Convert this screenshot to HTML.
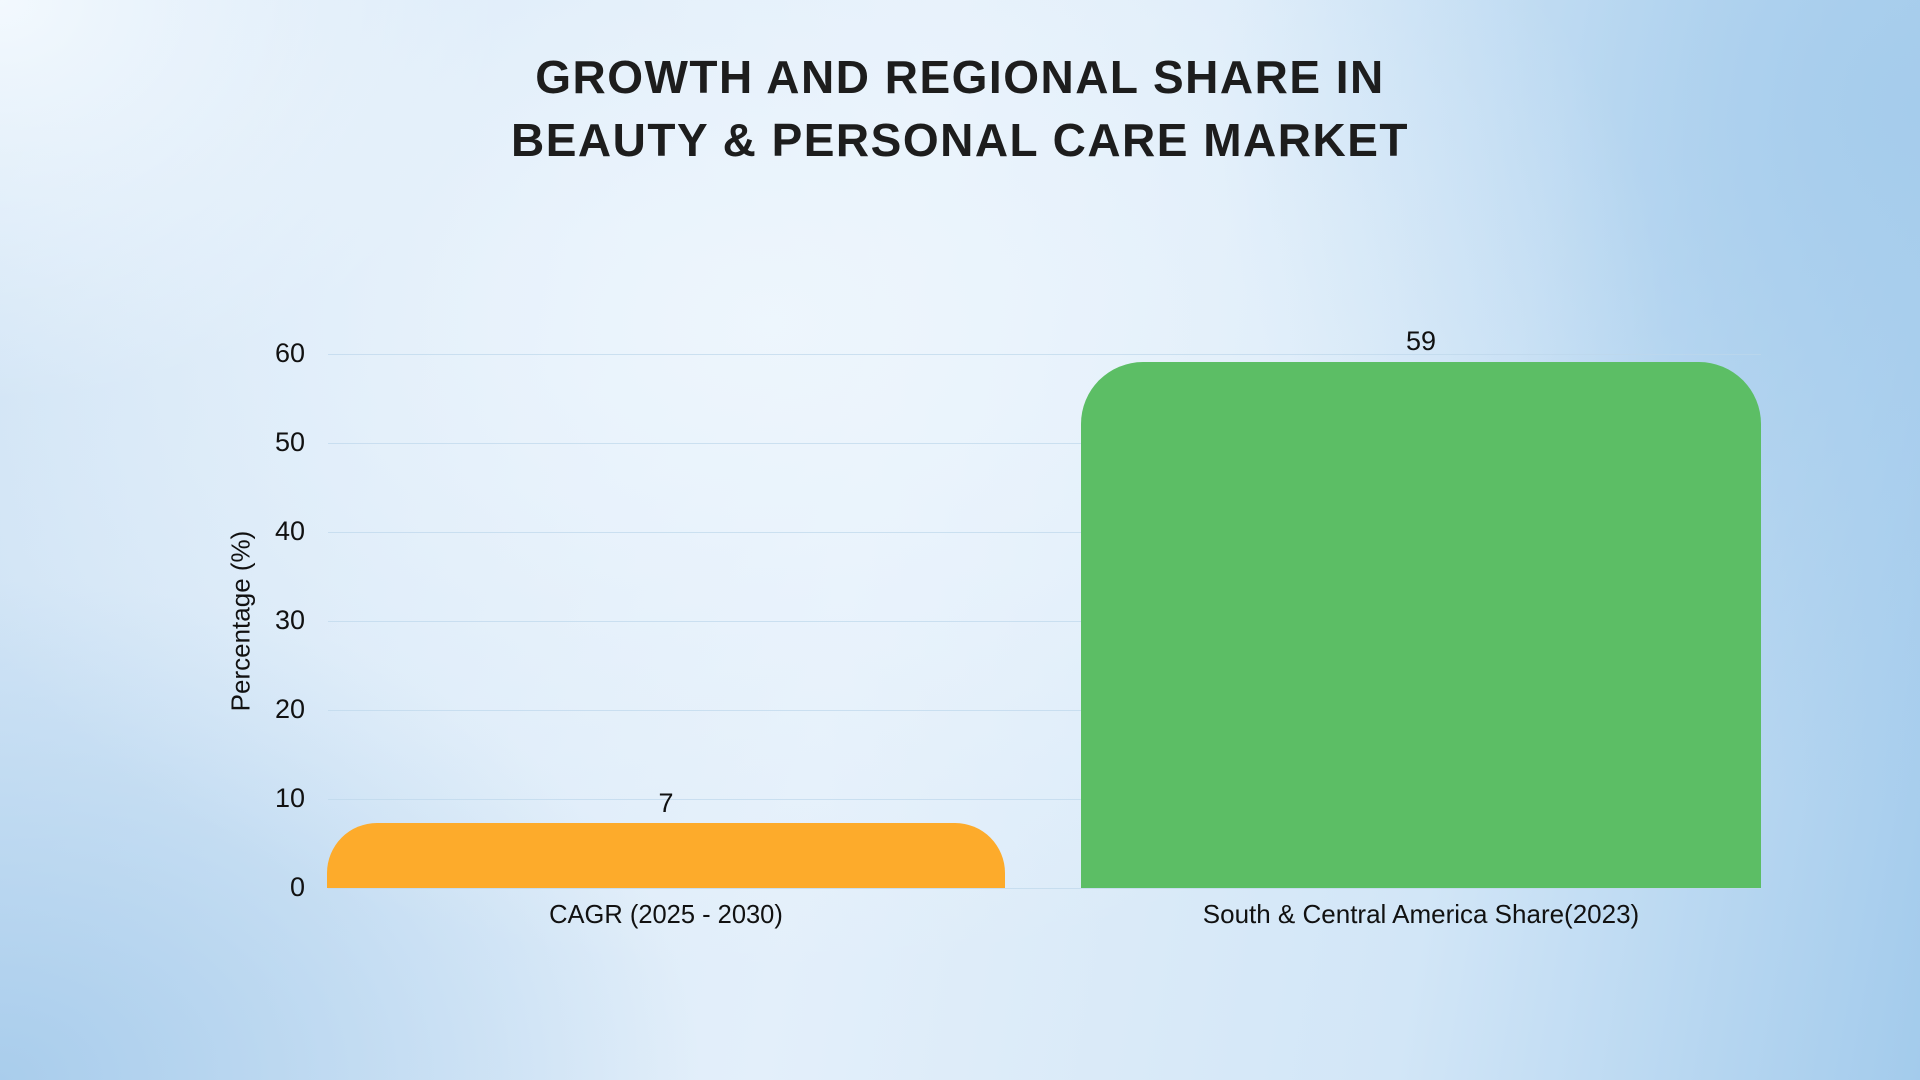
<!DOCTYPE html>
<html><head><style>
html,body{margin:0;padding:0;}
body{width:1920px;height:1080px;overflow:hidden;position:relative;font-family:"Liberation Sans",sans-serif;
background:
radial-gradient(ellipse 900px 650px at 40% 30%, rgba(238,246,253,0.95), rgba(238,246,253,0) 100%),
radial-gradient(ellipse 500px 400px at 0% 0%, #f3f9fe, rgba(243,249,254,0) 100%),
radial-gradient(ellipse 700px 500px at 0% 100%, #a9cdec, rgba(169,205,236,0) 100%),
radial-gradient(ellipse 700px 700px at 100% 10%, #a5ccec, rgba(165,204,236,0) 100%),
linear-gradient(100deg, #cfe3f5 0%, #e3effa 45%, #d2e6f7 75%, #a3cbec 100%);}
.t{position:absolute;left:0;width:1920px;text-align:center;font-weight:bold;font-size:46px;color:#1d1d1d;letter-spacing:1.5px;}
.g{position:absolute;left:328px;width:1433px;height:1px;background:rgba(190,215,235,0.7);}
.yl{position:absolute;width:60px;text-align:right;left:245px;font-size:27px;color:#111;}
.bar{position:absolute;}
.v{position:absolute;font-size:27px;color:#111;text-align:center;}
.c{position:absolute;font-size:26px;color:#111;text-align:center;top:899px;}
</style></head><body>
<div class="t" style="top:50px">GROWTH AND REGIONAL SHARE IN</div>
<div class="t" style="top:113px">BEAUTY &amp; PERSONAL CARE MARKET</div>
<div class="g" style="top:354px"></div>
<div class="g" style="top:443px"></div>
<div class="g" style="top:532px"></div>
<div class="g" style="top:621px"></div>
<div class="g" style="top:710px"></div>
<div class="g" style="top:799px"></div>
<div class="g" style="top:888px"></div>
<div class="yl" style="top:338px">60</div>
<div class="yl" style="top:427px">50</div>
<div class="yl" style="top:516px">40</div>
<div class="yl" style="top:605px">30</div>
<div class="yl" style="top:694px">20</div>
<div class="yl" style="top:783px">10</div>
<div class="yl" style="top:872px">0</div>
<div style="position:absolute;left:241px;top:621px;transform:translate(-50%,-50%) rotate(-90deg);font-size:26px;color:#111;white-space:nowrap;">Percentage (%)</div>
<div class="bar" style="left:327px;top:823px;width:678px;height:65px;background:#fdab2b;border-radius:50px 50px 0 0;"></div>
<div class="bar" style="left:1081px;top:362px;width:680px;height:526px;background:#5cbe65;border-radius:62px 62px 0 0;"></div>
<div class="v" style="left:566px;width:200px;top:788px">7</div>
<div class="v" style="left:1321px;width:200px;top:326px">59</div>
<div class="c" style="left:366px;width:600px;transform:scaleX(0.98)">CAGR (2025 - 2030)</div>
<div class="c" style="left:1121px;width:600px">South &amp; Central America Share(2023)</div>
</body></html>
